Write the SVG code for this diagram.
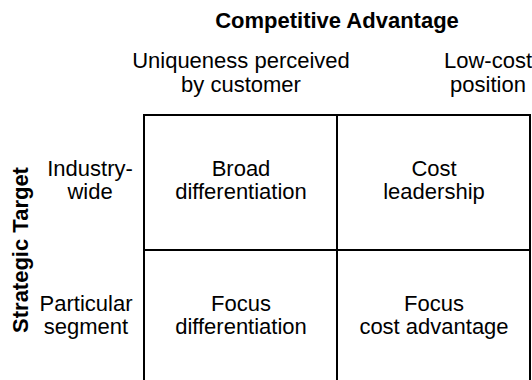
<svg xmlns="http://www.w3.org/2000/svg" width="532" height="380" viewBox="0 0 532 380">
  <style>
    text { font-family: "Liberation Sans", Arial, Helvetica, sans-serif; font-size: 22px; fill: #000; text-anchor: middle; }
    .bold { font-weight: bold; }
    .cell { fill: #fff; stroke: #000; stroke-width: 2; }
  </style>
  <rect width="532" height="380" fill="#fff"/>

  <!-- axis titles -->
  <g id="axis-competitive-advantage">
    <text class="bold" x="337" y="28">Competitive Advantage</text>
  </g>
  <g id="axis-strategic-target">
    <text class="bold" transform="translate(28,250) rotate(-90)">Strategic Target</text>
  </g>

  <!-- column headers -->
  <g id="col-uniqueness">
    <text x="241" y="68">Uniqueness perceived</text>
    <text x="241" y="92">by customer</text>
  </g>
  <g id="col-low-cost">
    <text x="488" y="68">Low-cost</text>
    <text x="488" y="92">position</text>
  </g>

  <!-- row headers -->
  <g id="row-industry-wide">
    <text x="90" y="176">Industry-</text>
    <text x="90" y="199">wide</text>
  </g>
  <g id="row-particular-segment">
    <text x="86" y="311">Particular</text>
    <text x="86" y="334">segment</text>
  </g>

  <!-- strategy matrix cells -->
  <g id="cell-broad-differentiation">
    <rect class="cell" x="144" y="115" width="193" height="135"/>
    <text x="241" y="176">Broad</text>
    <text x="241" y="199">differentiation</text>
  </g>
  <g id="cell-cost-leadership">
    <rect class="cell" x="337" y="115" width="193" height="135"/>
    <text x="434" y="176">Cost</text>
    <text x="434" y="199">leadership</text>
  </g>
  <g id="cell-focus-differentiation">
    <rect class="cell" x="144" y="250" width="193" height="135"/>
    <text x="241" y="311">Focus</text>
    <text x="241" y="334">differentiation</text>
  </g>
  <g id="cell-focus-cost-advantage">
    <rect class="cell" x="337" y="250" width="193" height="135"/>
    <text x="434" y="311">Focus</text>
    <text x="434" y="334">cost advantage</text>
  </g>
</svg>
